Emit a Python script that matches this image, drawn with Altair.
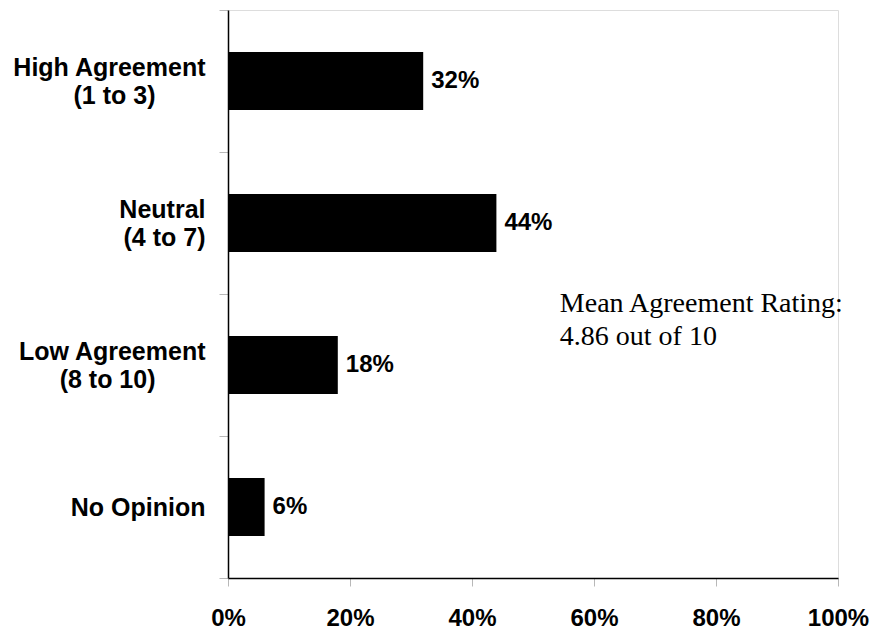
import altair as alt
import pandas as pd
import json

categories = ["High Agreement (1 to 3)", "Neutral (4 to 7)", "Low Agreement (8 to 10)", "No Opinion"]
label_lines = [
    ["High Agreement", "(1 to 3)"],
    ["Neutral", "(4 to 7)"],
    ["Low Agreement", "(8 to 10)"],
    ["No Opinion"],
]
values = [32, 44, 18, 6]
x_ticks = [0, 20, 40, 60, 80, 100]
note_lines = ["Mean Agreement Rating:", "4.86 out of 10"]
note_x = 54.4
note_category = "Low Agreement (8 to 10)"

# trailing en spaces (closed by a word joiner) so short second lines sit centred under the first
SP = "\u2002"
WJ = "\u2060"
line_pad = [4, 0, 4, 0]
display = {}
for c, lines, p in zip(categories, label_lines, line_pad):
    ls = list(lines)
    if len(ls) > 1 and p > 0:
        ls[1] = ls[1] + SP * p + WJ
    display[c] = ls

df = pd.DataFrame({"cat": categories, "val": values})
df["lab"] = [f"{v}%" for v in values]

note_df = pd.DataFrame({"cat": [note_category], "val": [note_x], "txt": [note_lines]})

label_expr = f"{json.dumps(display, ensure_ascii=False)}[datum.label]"
LH = 28

y_enc = alt.Y(
    "cat:N",
    sort=categories,
    scale=alt.Scale(paddingInner=0, paddingOuter=0),
    axis=alt.Axis(
        title=None,
        labelExpr=label_expr,
        labelFont="Liberation Sans",
        labelFontWeight="bold",
        labelFontSize=25,
        labelLineHeight=LH,
        labelColor="black",
        labelPadding=14,
        labelAlign="right",
        labelBaseline="middle",
        labelOffset={"expr": f"indexof(datum.label, '(') >= 0 ? {-LH / 2} : 0"},
        labelLimit=400,
        tickBand="extent",
        tickSize=9,
        tickColor="#b8b8b8",
        domainColor="black",
        domainWidth=1.5,
        grid=False,
    ),
)

x_enc = alt.X(
    "val:Q",
    scale=alt.Scale(domain=[0, 100], nice=False),
    axis=alt.Axis(
        title=None,
        values=x_ticks,
        labelExpr="datum.value + '%'",
        labelFont="Liberation Sans",
        labelFontWeight="bold",
        labelFontSize=24,
        labelColor="black",
        labelPadding=20,
        tickSize=8,
        tickColor="#b8b8b8",
        domainColor="black",
        domainWidth=1.5,
        grid=False,
        labelFlush=False,
    ),
)

bars = alt.Chart(df).mark_bar(color="black", size=58).encode(x=x_enc, y=y_enc)

labels = alt.Chart(df).mark_text(
    align="left", baseline="middle", dx=8, font="Liberation Sans",
    fontWeight="bold", fontSize=24, color="black"
).encode(x="val:Q", y=alt.Y("cat:N", sort=categories), text="lab:N")

note = alt.Chart(note_df).mark_text(
    align="left", baseline="alphabetic", dy=-53, font="Liberation Serif",
    fontSize=28, lineHeight=33, color="black"
).encode(x="val:Q", y=alt.Y("cat:N", sort=categories), text="txt")

chart = alt.layer(bars, labels, note).properties(
    width=610, height=568,
    autosize=alt.AutoSizeParams(type="none"),
    padding={"left": 228, "top": 10, "right": 35, "bottom": 52},
).configure_view(stroke=None).configure(background="white")

chart.save("out.html", embed_options={"renderer": "svg", "actions": False})
